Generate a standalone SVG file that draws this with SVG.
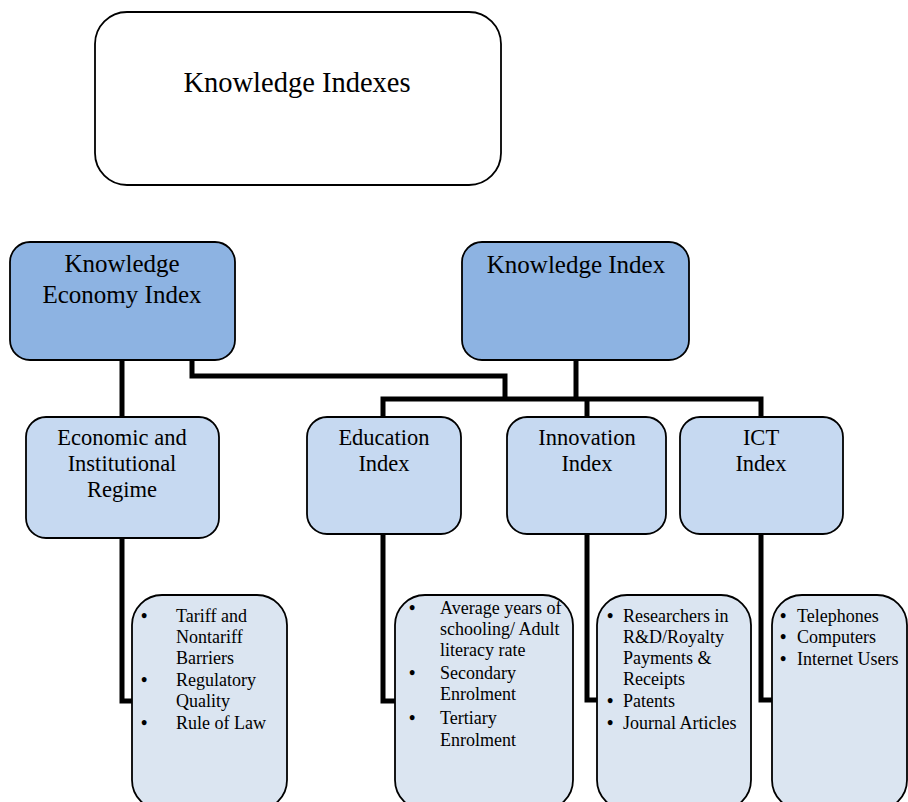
<svg xmlns="http://www.w3.org/2000/svg" width="908" height="802" viewBox="0 0 908 802">
<style>
.box{stroke:#000;stroke-width:1.8}
.dark{fill:#8DB3E2}
.mid{fill:#C6D9F1}
.light{fill:#DBE5F1}
.t{font-family:"Liberation Serif","Times New Roman",serif;fill:#000}
.c{text-anchor:middle}
.h1{font-size:28.5px}
.h2{font-size:25px}
.h3{font-size:22.5px}
.li{font-size:18px}
.b{font-weight:bold}
.conn{fill:none;stroke:#000;stroke-width:5;stroke-linejoin:miter}
</style>
<rect width="908" height="802" fill="#fff"/>
<g id="connectors">
<path class="conn" d="M122,360 V417"/>
<path class="conn" d="M192,360 V376 H505 V401"/>
<path class="conn" d="M576,360 V399"/>
<path class="conn" d="M383,417 V399 H761 V417"/>
<path class="conn" d="M587,399 V417"/>
<path class="conn" d="M122,538 V701 H133"/>
<path class="conn" d="M383,534 V701 H396"/>
<path class="conn" d="M587,534 V700 H598"/>
<path class="conn" d="M761,534 V700 H773"/>
</g>
<g id="knowledge-indexes">
<rect class="box" x="95" y="12" width="406" height="173" rx="32" fill="#fff"/>
<text class="t c h1" x="297" y="92">Knowledge Indexes</text>
</g>
<g id="kei">
<rect class="box dark" x="10" y="242" width="225" height="118" rx="20"/>
<text class="t c h2" x="122" y="272">Knowledge</text>
<text class="t c h2" x="122" y="303">Economy Index</text>
</g>
<g id="ki">
<rect class="box dark" x="462" y="242" width="227" height="118" rx="20"/>
<text class="t c h2" x="576" y="273">Knowledge Index</text>
</g>
<g id="eir">
<rect class="box mid" x="26" y="417" width="193" height="121" rx="20"/>
<text class="t c h3" x="122" y="445">Economic and</text>
<text class="t c h3" x="122" y="471">Institutional</text>
<text class="t c h3" x="122" y="497">Regime</text>
</g>
<g id="education">
<rect class="box mid" x="307" y="417" width="154" height="117" rx="20"/>
<text class="t c h3" x="384" y="445">Education</text>
<text class="t c h3" x="384" y="471">Index</text>
</g>
<g id="innovation">
<rect class="box mid" x="507" y="417" width="159" height="117" rx="20"/>
<text class="t c h3" x="587" y="445">Innovation</text>
<text class="t c h3" x="587" y="471">Index</text>
</g>
<g id="ict">
<rect class="box mid" x="680" y="417" width="163" height="117" rx="20"/>
<text class="t c h3" x="761" y="445">ICT</text>
<text class="t c h3" x="761" y="471">Index</text>
</g>
<g id="eir-list">
<rect class="box light" x="132" y="595" width="155" height="215" rx="30"/>
<g class="t li">
<text class="b" x="141" y="622">•</text>
<text x="176" y="622">Tariff and</text>
<text x="176" y="643">Nontariff</text>
<text x="176" y="664">Barriers</text>
<text class="b" x="141" y="686">•</text>
<text x="176" y="686">Regulatory</text>
<text x="176" y="707">Quality</text>
<text class="b" x="141" y="729">•</text>
<text x="176" y="729">Rule of Law</text>
</g>
</g>
<g id="education-list">
<rect class="box light" x="395" y="595" width="178" height="215" rx="30"/>
<g class="t li">
<text class="b" x="409" y="614">•</text>
<text x="440" y="614">Average years of</text>
<text x="440" y="635">schooling/ Adult</text>
<text x="440" y="656">literacy rate</text>
<text class="b" x="409" y="679">•</text>
<text x="440" y="679">Secondary</text>
<text x="440" y="700">Enrolment</text>
<text class="b" x="409" y="724">•</text>
<text x="440" y="724">Tertiary</text>
<text x="440" y="746">Enrolment</text>
</g>
</g>
<g id="innovation-list">
<rect class="box light" x="597" y="595" width="154" height="215" rx="30"/>
<g class="t li">
<text class="b" x="607" y="622">•</text>
<text x="623" y="622">Researchers in</text>
<text x="623" y="643">R&amp;D/Royalty</text>
<text x="623" y="664">Payments &amp;</text>
<text x="623" y="685">Receipts</text>
<text class="b" x="607" y="707">•</text>
<text x="623" y="707">Patents</text>
<text class="b" x="607" y="729">•</text>
<text x="623" y="729">Journal Articles</text>
</g>
</g>
<g id="ict-list">
<rect class="box light" x="772" y="595" width="135" height="215" rx="30"/>
<g class="t li">
<text class="b" x="780" y="622">•</text>
<text x="797" y="622">Telephones</text>
<text class="b" x="780" y="643">•</text>
<text x="797" y="643">Computers</text>
<text class="b" x="780" y="665">•</text>
<text x="797" y="665">Internet Users</text>
</g>
</g>
</svg>
